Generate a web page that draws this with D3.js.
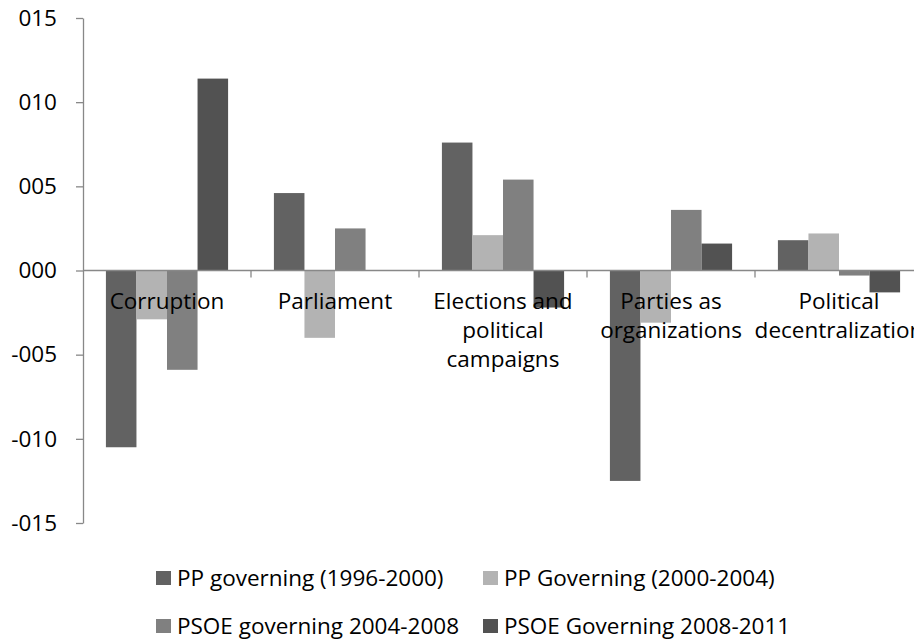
<!DOCTYPE html>
<html>
<head>
<meta charset="utf-8">
<script src="https://cdn.jsdelivr.net/npm/d3@7"></script>
<style>
  html, body { margin: 0; padding: 0; background: #fff; }
  svg { display: block; font-family: "Open Sans", sans-serif; }
</style>
</head>
<body>
<svg id="chart" width="914" height="640"></svg>
<script>
// Topic areas (each entry holds the lines of its wrapped label)
const categories = ["Corruption", "Parliament", "Elections and political campaigns",
                    "Parties as organizations", "Political decentralization"];
const categoryLines = [
  ["Corruption"],
  ["Parliament"],
  ["Elections and", "political", "campaigns"],
  ["Parties as", "organizations"],
  ["Political", "decentralization"]
];

// Series names and values per topic
const seriesNames = ["PP governing (1996-2000)", "PP Governing (2000-2004)",
                     "PSOE governing 2004-2008", "PSOE Governing 2008-2011"];
const pp1996 = [-10.5, 4.6, 7.6, -12.5, 1.8];
const pp2000 = [-2.9, -4.0, 2.1, -3.1, 2.2];
const psoe2004 = [-5.9, 2.5, 5.4, 3.6, -0.3];
const psoe2008 = [11.4, 0.0, -2.2, 1.6, -1.3];
const seriesColors = ["#626262", "#b3b3b3", "#808080", "#525252"];

// Value axis ticks
const yTicks = [-15, -10, -5, 0, 5, 10, 15];
const yTickLabels = ["-015", "-010", "-005", "000", "005", "010", "015"];

const seriesValues = [pp1996, pp2000, psoe2004, psoe2008];

const svg = d3.select("#chart");
const axisColor = "#888888";
const fontSize = 22.5;

const x = d3.scaleBand().domain(categories).range([83, 923]).padding(0);
const xInner = d3.scaleBand().domain(d3.range(seriesNames.length))
  .range([0, x.bandwidth()]).paddingInner(0).paddingOuter(0.75);
const y = d3.scaleLinear().domain([-15, 15]).range([523, 18]);

// Bars
const rows = [];
categories.forEach((c, ci) => {
  seriesValues.forEach((vals, si) => rows.push({ c, si, v: vals[ci] }));
});
svg.append("g").selectAll("rect").data(rows).join("rect")
  .attr("x", d => x(d.c) + xInner(d.si))
  .attr("width", xInner.bandwidth())
  .attr("y", d => y(Math.max(0, d.v)))
  .attr("height", d => Math.abs(y(d.v) - y(0)))
  .attr("fill", d => seriesColors[d.si]);

// Value axis
const yAxis = svg.append("g").attr("transform", "translate(83,0)")
  .call(d3.axisLeft(y).tickValues(yTicks)
    .tickFormat((d, i) => yTickLabels[i])
    .tickSize(7).tickSizeOuter(0).tickPadding(19));
yAxis.select(".domain").attr("stroke", axisColor).attr("stroke-width", 1.3);
yAxis.selectAll(".tick line").attr("stroke", axisColor).attr("stroke-width", 1.3);
yAxis.selectAll(".tick text")
  .attr("fill", "#000").style("font-size", fontSize + "px")
  .style("font-family", "'Open Sans', sans-serif");

// Category axis along zero
const xAxisG = svg.append("g");
xAxisG.append("line")
  .attr("x1", x.range()[0]).attr("x2", x.range()[1])
  .attr("y1", y(0)).attr("y2", y(0))
  .attr("stroke", axisColor).attr("stroke-width", 1.3);
const boundaries = categories.map(c => x(c)).concat([x.range()[1]]);
xAxisG.selectAll("line.tick").data(boundaries.slice(1)).join("line")
  .attr("class", "tick")
  .attr("x1", d => d).attr("x2", d => d)
  .attr("y1", y(0)).attr("y2", y(0) + 7)
  .attr("stroke", axisColor).attr("stroke-width", 1.3);

// Category labels, drawn over the bars
const labels = svg.append("g").selectAll("text").data(categories).join("text")
  .attr("x", d => x(d) + x.bandwidth() / 2)
  .attr("y", 301.5)
  .attr("text-anchor", "middle")
  .style("font-size", fontSize + "px")
  .attr("fill", "#000");
labels.each(function (d, i) {
  d3.select(this).selectAll("tspan").data(categoryLines[i]).join("tspan")
    .attr("x", x(d) + x.bandwidth() / 2)
    .attr("dy", (t, j) => j === 0 ? "0.35em" : 29)
    .text(t => t);
});

// Legend: two columns, two rows
const legendCols = [156, 483];
const legendRows = [578, 626];
const legend = svg.append("g").selectAll("g").data(seriesNames).join("g")
  .attr("transform", (d, i) => `translate(${legendCols[i % 2]},${legendRows[Math.floor(i / 2)]})`);
legend.append("rect")
  .attr("x", 0).attr("y", -7).attr("width", 15).attr("height", 14)
  .attr("fill", (d, i) => seriesColors[i]);
legend.append("text")
  .attr("x", 21).attr("y", 0).attr("dy", "0.35em")
  .style("font-size", fontSize + "px")
  .attr("fill", "#000")
  .text(d => d);
</script>
</body>
</html>
